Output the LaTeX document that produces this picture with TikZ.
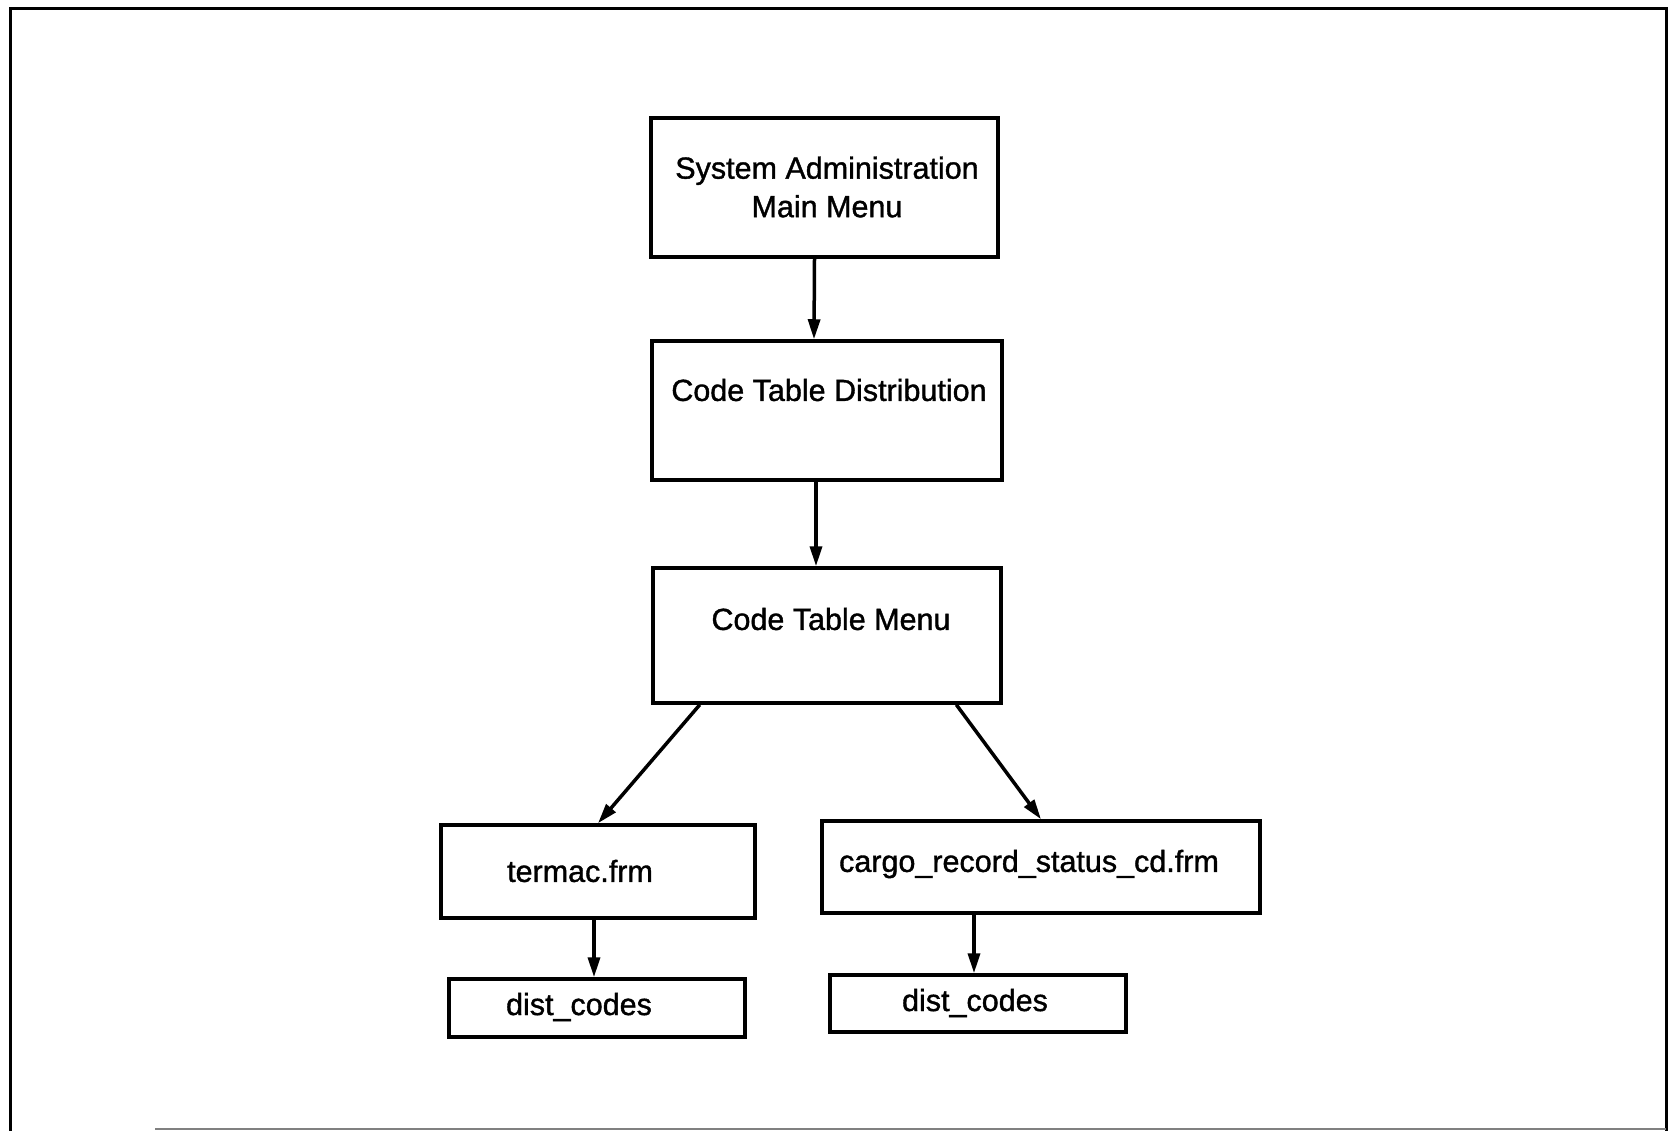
\documentclass[tikz,border=0pt]{standalone}
\usepackage{fontspec}
\setmainfont{Liberation Sans}
\newfontfamily\lblfont{Liberation Sans}[FakeBold=1.2]
\usetikzlibrary{arrows.meta,calc}
\tikzset{
  box/.style={draw, line width=3.5pt, inner sep=0pt},
  lbl/.style={font=\lblfont\fontsize{30.5}{38.5}\selectfont, align=center, inner sep=0pt},
  conn/.style={line width=3.5pt, -{Triangle[length=20pt,width=12pt]}},
  frame/.style={line width=3pt},
}
\begin{document}
\begin{tikzpicture}[x=1pt,y=-1pt]
\useasboundingbox (0,0) rectangle (1673,1131);
% outer frame
\draw[frame] (10,1131) -- (10,9) -- (1666,9) -- (1666,1131);
\draw[gray, line width=2pt] (155,1129) -- (1666,1129);
% boxes
\node[box, minimum width=347pt, minimum height=139pt] (b1) at (824.5,187.5) {};
\node[lbl] (t1) at (827,187) {System Administration\\Main Menu};
\node[box, minimum width=350pt, minimum height=139pt] (b2) at (827,410.5) {};
\node[lbl] (t2) at (829,390) {Code Table Distribution};
\node[box, minimum width=348pt, minimum height=135pt] (b3) at (827,635.5) {};
\node[lbl] (t3) at (831,619) {Code Table Menu};
\node[box, minimum width=314pt, minimum height=93pt] (b4) at (598,871.5) {};
\node[lbl] (t4) at (580,871) {termac.frm};
\node[box, minimum width=438pt, minimum height=92pt] (b5) at (1041,867) {};
\node[lbl] (t5) at (1029,864) {cargo\_record\_status\_cd.frm};
\node[box, minimum width=296pt, minimum height=58pt] (b6) at (597,1008) {};
\node[lbl] (t6) at (579,1007) {dist\_codes};
\node[box, minimum width=296pt, minimum height=57pt] (b7) at (978,1003.5) {};
\node[lbl] (t7) at (975,1003) {dist\_codes};
% connectors
\draw[conn] ([xshift=-10pt]b1.south) -- ([xshift=-13pt]b2.north);
\draw[conn] ([xshift=-11pt]b2.south) -- ([xshift=-11pt]b3.north);
\draw[conn] ($(b3.south west)!0.138!(b3.south east)$) -- (b4.north);
\draw[conn] ($(b3.south west)!0.868!(b3.south east)$) -- (b5.north);
\draw[conn] ([xshift=-4pt]b4.south) -- ([xshift=-3pt]b6.north);
\draw[conn] ([xshift=-4pt]b7.north |- b5.south) -- ([xshift=-4pt]b7.north);
\end{tikzpicture}
\end{document}
